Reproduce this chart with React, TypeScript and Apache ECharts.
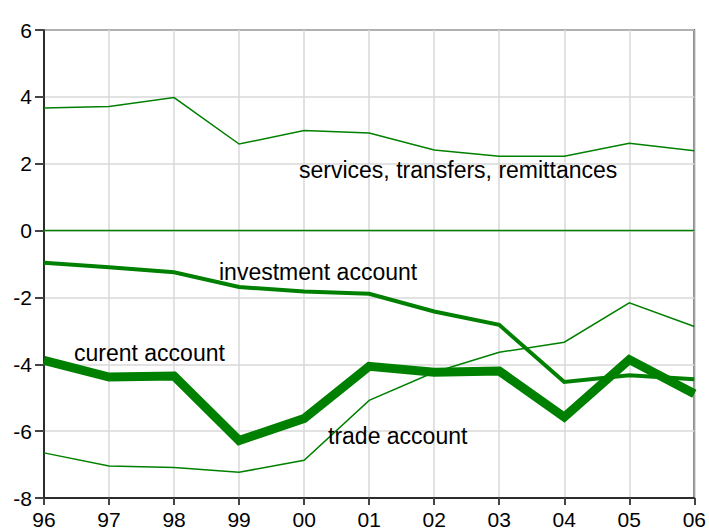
import React, { useEffect, useRef } from "react";
import * as echarts from "echarts";

const years = ["96", "97", "98", "99", "00", "01", "02", "03", "04", "05", "06"];
const services = [3.67, 3.71, 3.98, 2.59, 2.99, 2.92, 2.41, 2.22, 2.22, 2.61, 2.39];
const investment = [-0.96, -1.1, -1.25, -1.69, -1.82, -1.89, -2.42, -2.82, -4.53, -4.33, -4.45];
const trade = [-6.65, -7.04, -7.09, -7.23, -6.87, -5.08, -4.24, -3.64, -3.34, -2.16, -2.87];
const current = [-3.88, -4.38, -4.35, -6.28, -5.62, -4.06, -4.24, -4.2, -5.58, -3.86, -4.88];
const zero = years.map(() => 0);

const GREEN = "#008000";
const FONT = "Liberation Sans, Arial, sans-serif";

export default function App() {
  const ref = useRef<HTMLDivElement>(null);
  useEffect(() => {
    if (!ref.current) return;
    const chart = echarts.init(ref.current, null, { renderer: "svg" });
    const line = (name: string, data: number[], width: number, z = 2) => ({
      name,
      type: "line",
      data,
      symbol: "none",
      z,
      lineStyle: { color: GREEN, width, join: "miter" },
      itemStyle: { color: GREEN },
    });
    const label = (text: string, x: number, y: number) => ({
      type: "text",
      x,
      y,
      z: 100,
      style: { text, fontSize: 23, fontFamily: FONT, fill: "#000", textVerticalAlign: "middle", verticalAlign: "middle" },
    });
    chart.setOption({
      animation: false,
      backgroundColor: "#fff",
      grid: { left: 44, right: 12, top: 30, bottom: 32, show: true, borderColor: "#000", borderWidth: 1.5 },
      xAxis: {
        type: "category",
        data: years,
        boundaryGap: false,
        axisLine: { show: true, onZero: false, lineStyle: { color: "#000", width: 1.5 } },
        axisTick: { show: true, inside: false, length: 7, lineStyle: { color: "#444", width: 2 } },
        axisLabel: { color: "#000", fontSize: 21, fontFamily: FONT, margin: 11 },
        splitLine: { show: true, lineStyle: { color: "#d9d9d9", width: 1.5 } },
      },
      yAxis: {
        type: "value",
        min: -8,
        max: 6,
        interval: 2,
        axisLine: { show: true, onZero: false, lineStyle: { color: "#000", width: 1.5 } },
        axisTick: { show: true, inside: false, length: 9, lineStyle: { color: "#444", width: 2 } },
        axisLabel: { color: "#000", fontSize: 21, fontFamily: FONT, margin: 12 },
        splitLine: { show: true, lineStyle: { color: "#d9d9d9", width: 1.5 } },
      },
      series: [
        line("zero", zero, 1.5, 1),
        line("services, transfers, remittances", services, 1.5),
        line("trade account", trade, 1.5),
        line("investment account", investment, 4),
        line("curent account", current, 9),
      ],
      graphic: [
        label("services, transfers, remittances", 299, 170),
        label("investment account", 219, 272),
        label("curent account", 74, 353),
        label("trade account", 328, 436),
      ],
    });
    return () => chart.dispose();
  }, []);
  return <div ref={ref} style={{ width: 709, height: 530, position: "absolute", left: 0, top: 0 }} />;
}
